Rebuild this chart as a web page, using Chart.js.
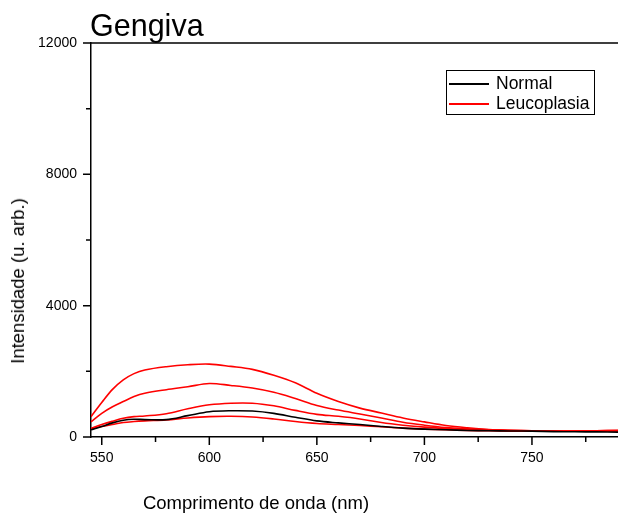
<!DOCTYPE html>
<html>
<head>
<meta charset="utf-8">
<script src="https://cdn.jsdelivr.net/npm/chart.js@4"></script>
<style>
  body { margin: 0; background: #fff; font-family: "Liberation Sans", Arial, sans-serif; }
  #wrap { position: relative; width: 618px; height: 513px; overflow: hidden; }
  #titulo { position: absolute; left: 90px; top: 10px; font-size: 30.5px; color: #000; line-height: 1; }
  #tituloY { position: absolute; left: 18px; top: 281px; font-size: 18.5px; white-space: nowrap;
             transform: translate(-50%, -50%) rotate(-90deg); }
  #tituloX { position: absolute; left: 256px; top: 503px; font-size: 18.5px; white-space: nowrap;
             transform: translate(-50%, -50%); }
  #legenda { position: absolute; left: 446px; top: 70px; width: 149px; height: 45px;
             border: 1px solid #000; font-size: 17.5px; box-sizing: border-box; }
  #legenda div { position: absolute; left: 2px; height: 20px; line-height: 20px; white-space: nowrap; }
  #legenda span.linha { display: inline-block; width: 40px; height: 2px;
                        vertical-align: middle; margin-right: 7px; }
</style>
</head>
<body>
<div id="wrap">
  <canvas id="grafico" width="618" height="513"></canvas>
  <div id="titulo">Gengiva</div>
  <div id="tituloY">Intensidade (u. arb.)</div>
  <div id="tituloX">Comprimento de onda (nm)</div>
  <div id="legenda">
    <div style="top:2px"><span class="linha" style="background:#000"></span>Normal</div>
    <div style="top:22px"><span class="linha" style="background:#f00"></span>Leucoplasia</div>
  </div>
</div>
<script>
// ------- Dados -------
const comprimentos = [545, 550, 555, 560, 565, 570, 580, 590, 600, 610, 620, 630, 640, 650,
  660, 670, 680, 690, 700, 710, 720, 730, 740, 750, 760, 770, 780, 790];

const normal = [220, 320, 430, 510, 540, 530, 530, 650, 770, 800, 790, 720, 600, 490,
  430, 380, 320, 270, 240, 220, 200, 190, 185, 180, 165, 160, 155, 150];

const leuco1 = [620, 1050, 1450, 1740, 1930, 2040, 2140, 2200, 2220, 2150, 2060, 1880, 1650, 1330,
  1080, 880, 730, 580, 460, 350, 280, 230, 205, 190, 185, 185, 190, 200];
const leuco2 = [460, 720, 920, 1080, 1230, 1330, 1440, 1530, 1630, 1570, 1490, 1360, 1170, 960,
  820, 700, 580, 450, 360, 290, 250, 220, 200, 190, 180, 180, 185, 195];
const leuco3 = [260, 380, 480, 570, 620, 640, 710, 860, 980, 1030, 1030, 950, 810, 690,
  630, 550, 440, 360, 300, 260, 230, 210, 195, 185, 175, 175, 180, 190];
const leuco4 = [250, 320, 380, 440, 470, 490, 520, 580, 620, 630, 610, 550, 470, 410,
  380, 350, 310, 270, 240, 220, 200, 190, 180, 175, 175, 180, 190, 200];

const ticksX = [550, 600, 650, 700, 750];
const ticksXmenor = [575, 625, 675, 725, 775];
const ticksY = [0, 4000, 8000, 12000];
const ticksYmenor = [2000, 6000, 10000];

// ------- Utilidades -------
function serie(valores, cor) {
  return {
    data: comprimentos.map((x, i) => ({ x, y: valores[i] })),
    borderColor: cor,
    borderWidth: 1.6,
    pointRadius: 0,
    tension: 0.35,
    fill: false
  };
}

// marcas menores/maiores e borda superior
const marcasPlugin = {
  id: 'marcas',
  afterDraw(chart) {
    const { ctx, chartArea: a, scales: { x, y } } = chart;
    ctx.save();
    ctx.strokeStyle = '#000';
    ctx.lineWidth = 1.5;
    ctx.beginPath();
    ticksX.forEach(v => { const px = x.getPixelForValue(v); ctx.moveTo(px, a.bottom); ctx.lineTo(px, a.bottom + 8); });
    ticksXmenor.forEach(v => { const px = x.getPixelForValue(v); ctx.moveTo(px, a.bottom); ctx.lineTo(px, a.bottom + 5); });
    ticksY.forEach(v => { const py = y.getPixelForValue(v); ctx.moveTo(a.left, py); ctx.lineTo(a.left - 8, py); });
    ticksYmenor.forEach(v => { const py = y.getPixelForValue(v); ctx.moveTo(a.left, py); ctx.lineTo(a.left - 5, py); });
    ctx.moveTo(a.left - 8, a.top);
    ctx.lineTo(a.right, a.top);
    ctx.stroke();
    ctx.restore();
  }
};

const fonteTicks = { family: '"Liberation Sans", Arial', size: 14 };

new Chart(document.getElementById('grafico'), {
  type: 'line',
  data: {
    datasets: [
      serie(normal, '#000000'),
      serie(leuco1, '#ff0000'),
      serie(leuco2, '#ff0000'),
      serie(leuco3, '#ff0000'),
      serie(leuco4, '#ff0000')
    ]
  },
  options: {
    responsive: false,
    animation: false,
    layout: { padding: { top: 43, left: 0, right: 0, bottom: 0 } },
    plugins: { legend: { display: false }, tooltip: { enabled: false } },
    scales: {
      x: {
        type: 'linear',
        min: 545,
        max: 790,
        afterFit: s => { s.height = 76; },
        afterBuildTicks: s => { s.ticks = ticksX.map(v => ({ value: v })); },
        grid: { display: false, drawTicks: false },
        border: { display: true, color: '#000', width: 1.5 },
        ticks: { color: '#000', font: fonteTicks, padding: 13, maxRotation: 0, callback: v => String(v) }
      },
      y: {
        min: 0,
        max: 12000,
        afterFit: s => { s.width = 91; },
        afterBuildTicks: s => { s.ticks = ticksY.map(v => ({ value: v })); },
        grid: { display: false, drawTicks: false },
        border: { display: true, color: '#000', width: 1.5 },
        ticks: { color: '#000', font: fonteTicks, padding: 14, callback: v => String(v) }
      }
    }
  },
  plugins: [marcasPlugin]
});
</script>
</body>
</html>
